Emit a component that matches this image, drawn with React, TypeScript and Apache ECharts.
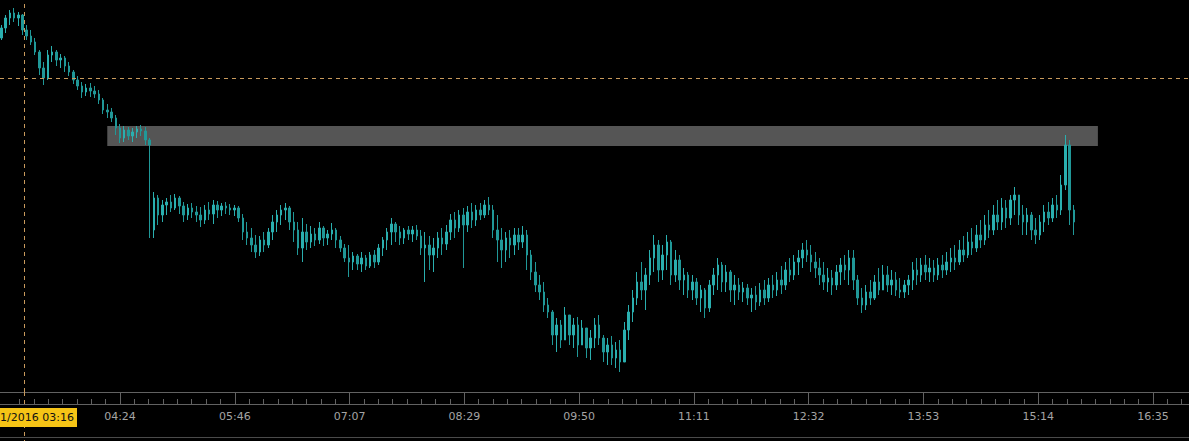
import { useEffect, useRef } from 'react';
import * as echarts from 'echarts';

// Candles: 3-minute bars starting 03:00, each [open, close, low, high]
const START_TIME = '03:00';
const PERIOD_MIN = 3;
const candles: number[][] = [
  [962, 972, 960, 975], [972, 982, 967, 985], [982, 987, 975, 990], [987, 982, 978, 992], [982, 985, 974, 988],
  [985, 970, 965, 986], [970, 964, 960, 975], [964, 958, 955, 970], [958, 948, 945, 962], [948, 932, 925, 950],
  [932, 922, 915, 938], [922, 945, 920, 950], [945, 948, 938, 954], [948, 940, 934, 950], [940, 942, 932, 946],
  [942, 934, 928, 944], [934, 928, 924, 938], [928, 920, 916, 930], [920, 914, 910, 924], [914, 908, 902, 918],
  [908, 912, 904, 916], [912, 909, 903, 917], [909, 906, 902, 914], [906, 900, 896, 910], [900, 890, 886, 902],
  [890, 888, 882, 896], [888, 882, 878, 892], [882, 872, 865, 885], [872, 862, 857, 876], [862, 870, 858, 874],
  [870, 864, 860, 873], [864, 868, 858, 872], [868, 871, 862, 874], [871, 869, 864, 875], [869, 860, 855, 873],
  [860, 855, 762, 862], [770, 802, 762, 808], [802, 785, 775, 805], [785, 795, 778, 800], [795, 798, 785, 802],
  [798, 792, 788, 805], [792, 802, 790, 806], [802, 794, 786, 804], [794, 785, 778, 798], [785, 792, 780, 796],
  [792, 788, 782, 797], [788, 785, 778, 794], [785, 780, 773, 793], [780, 790, 776, 795], [790, 786, 780, 798],
  [786, 795, 776, 800], [795, 790, 782, 799], [790, 794, 784, 797], [794, 792, 786, 798], [792, 790, 785, 796],
  [790, 792, 784, 795], [792, 782, 778, 794], [782, 768, 760, 786], [768, 762, 755, 778], [762, 755, 748, 772],
  [755, 748, 742, 765], [748, 760, 744, 764], [760, 755, 748, 768], [755, 768, 752, 772], [768, 778, 760, 785],
  [778, 785, 768, 790], [785, 790, 775, 795], [790, 792, 780, 797], [792, 778, 770, 794], [778, 770, 758, 788],
  [770, 752, 745, 778], [752, 768, 738, 782], [768, 758, 750, 776], [758, 766, 752, 774], [766, 760, 754, 772],
  [760, 772, 756, 778], [772, 762, 754, 774], [762, 766, 755, 770], [766, 770, 760, 777], [770, 760, 752, 772],
  [760, 752, 748, 764], [752, 742, 738, 756], [742, 738, 723, 755], [738, 744, 730, 748], [744, 736, 730, 746],
  [736, 742, 728, 748], [742, 734, 730, 745], [734, 745, 732, 748], [745, 738, 732, 750], [738, 752, 735, 756],
  [752, 760, 744, 763], [760, 768, 750, 772], [768, 776, 755, 782], [776, 768, 758, 778], [768, 762, 755, 774],
  [762, 770, 756, 772], [770, 766, 760, 774], [766, 770, 758, 774], [770, 764, 760, 775], [764, 752, 745, 770],
  [752, 755, 718, 768], [755, 745, 730, 764], [745, 752, 728, 762], [752, 762, 742, 768], [762, 756, 745, 772],
  [756, 768, 750, 775], [768, 780, 760, 786], [780, 772, 762, 788], [772, 785, 768, 790], [785, 775, 732, 792],
  [775, 788, 768, 794], [788, 780, 772, 797], [780, 790, 774, 795], [790, 785, 780, 797], [785, 795, 782, 800],
  [795, 790, 785, 803], [790, 770, 762, 795], [770, 760, 738, 785], [760, 750, 732, 772], [750, 762, 738, 768],
  [762, 755, 742, 770], [755, 765, 745, 772], [765, 758, 750, 772], [758, 765, 752, 774], [765, 745, 730, 770],
  [745, 728, 720, 750], [728, 715, 708, 738], [715, 708, 700, 725], [708, 695, 688, 718], [695, 688, 682, 702],
  [688, 665, 655, 690], [665, 675, 648, 682], [675, 660, 652, 680], [660, 685, 660, 693], [685, 665, 655, 685],
  [665, 675, 652, 682], [675, 655, 643, 683], [655, 672, 655, 680], [672, 652, 642, 672], [652, 662, 640, 670],
  [662, 675, 652, 682], [675, 662, 655, 685], [662, 648, 638, 665], [648, 655, 635, 662], [655, 642, 635, 664],
  [642, 650, 632, 658], [650, 638, 628, 660], [638, 670, 638, 678], [670, 688, 660, 695], [688, 702, 678, 710],
  [702, 718, 695, 728], [718, 710, 700, 738], [710, 725, 690, 732], [725, 742, 715, 750], [742, 755, 728, 765],
  [755, 730, 718, 760], [730, 745, 720, 755], [745, 758, 730, 765], [758, 725, 715, 760], [725, 740, 718, 750],
  [740, 720, 710, 745], [720, 725, 705, 732], [725, 710, 702, 728], [710, 718, 700, 725], [718, 702, 695, 722],
  [702, 710, 688, 715], [710, 692, 682, 712], [692, 715, 688, 720], [715, 725, 705, 732], [725, 735, 710, 742],
  [735, 718, 708, 738], [718, 728, 708, 735], [728, 710, 698, 730], [710, 715, 695, 725], [715, 708, 700, 722],
  [708, 712, 698, 718], [712, 702, 695, 716], [702, 705, 688, 712], [705, 698, 690, 714], [698, 710, 694, 717],
  [710, 702, 695, 720], [702, 715, 698, 722], [715, 710, 702, 725], [710, 720, 704, 728], [720, 715, 706, 734],
  [715, 730, 710, 738], [730, 725, 718, 742], [725, 738, 720, 745], [738, 742, 725, 750], [742, 750, 732, 757],
  [750, 745, 738, 760], [745, 738, 728, 755], [738, 732, 722, 748], [732, 725, 715, 742], [725, 718, 710, 738],
  [718, 722, 708, 732], [722, 715, 705, 730], [715, 728, 710, 735], [728, 735, 715, 742], [735, 730, 720, 745],
  [730, 742, 715, 750], [742, 720, 710, 750], [720, 702, 695, 725], [702, 695, 687, 712], [695, 708, 690, 715],
  [708, 702, 695, 720], [702, 718, 700, 725], [718, 710, 705, 732], [710, 725, 710, 735], [725, 715, 708, 734],
  [715, 720, 705, 730], [720, 710, 704, 728], [710, 708, 702, 722], [708, 715, 702, 720], [715, 720, 705, 725],
  [720, 730, 710, 738], [730, 725, 715, 742], [725, 735, 718, 742], [735, 728, 720, 745], [728, 732, 718, 742],
  [732, 725, 718, 740], [725, 735, 720, 742], [735, 730, 722, 745], [730, 738, 725, 748], [738, 742, 728, 752],
  [742, 738, 730, 755], [738, 750, 735, 760], [750, 745, 738, 764], [745, 758, 742, 768], [758, 752, 745, 772],
  [752, 765, 748, 775], [765, 760, 752, 780], [760, 775, 755, 785], [775, 770, 762, 790], [770, 785, 765, 795],
  [785, 778, 770, 800], [778, 792, 770, 802], [792, 782, 772, 800], [782, 800, 775, 805], [800, 805, 785, 813],
  [805, 785, 775, 805], [785, 778, 765, 795], [778, 785, 765, 792], [785, 770, 760, 788], [770, 765, 756, 782],
  [765, 778, 760, 785], [778, 788, 768, 795], [788, 782, 775, 798], [782, 795, 778, 802], [795, 790, 782, 805],
  [790, 815, 785, 825], [815, 855, 810, 865], [855, 790, 775, 860], [790, 778, 765, 795],
];

const tickLabels = ['04:24', '05:46', '07:07', '08:29', '09:50', '11:11', '12:32', '13:53', '15:14', '16:35'];
const crosshairTime = '03:16';
const crosshairPrice = 922;
const pointerLabel = '1/2016 03:16';
const bandTimes = ['04:15', '15:56'];
const bandPrices = [874, 854];
const priceRange = [608, 1000];

const toMin = (s: string) => {
  const [h, m] = s.split(':').map(Number);
  return h * 60 + m;
};

const TEAL_UP = '#2aafaf';
const TEAL_DOWN = '#209898';
const AXIS = '#626262';
const CROSS = '#c99a5c';

export default function App() {
  const ref = useRef<HTMLDivElement>(null);

  useEffect(() => {
    document.body.style.margin = '0';
    document.body.style.background = '#000';
    const chart = echarts.init(ref.current!, null, { renderer: 'svg' });

    const first = toMin(tickLabels[0]);
    const last = toMin(tickLabels[tickLabels.length - 1]);
    const step = (last - first) / (tickLabels.length - 1);
    const majors = tickLabels.map((_, i) => first + i * step);
    // pixel geometry of the axis: first label at 120px, last at 1153px
    const pxPerMin = (1153 - 120) / (last - first);
    const xMin = first - 120 / pxPerMin;
    const xMax = xMin + 1189 / pxPerMin;
    const minors: number[] = [];
    for (let k = -16; k <= (tickLabels.length - 1) * 8 + 8; k++) {
      if (k % 8 === 0) continue;
      const v = first + (k * step) / 8;
      if (v > xMin && v < xMax) minors.push(v);
    }
    const start = toMin(START_TIME);
    const data = candles.map((c, i) => [start + i * PERIOD_MIN, c[0], c[1], c[2], c[3]]);

    const fmt = (v: number) => {
      let best = 0;
      majors.forEach((m, i) => {
        if (Math.abs(m - v) < Math.abs(majors[best] - v)) best = i;
      });
      return tickLabels[best];
    };

    const baseAxis = { type: 'value' as const, min: xMin, max: xMax, position: 'bottom' as const, splitLine: { show: false } };

    chart.setOption({
      animation: false,
      backgroundColor: '#000',
      grid: { left: 0, right: 0, top: 0, bottom: 49 },
      xAxis: [
        {
          ...baseAxis,
          axisLine: { show: true, lineStyle: { color: AXIS, width: 1 } },
          axisTick: { show: true, customValues: majors, length: 12, lineStyle: { color: AXIS } },
          axisLabel: {
            show: true, customValues: majors, formatter: fmt, color: '#a4a4a4',
            fontSize: 11, fontFamily: 'DejaVu Sans', margin: 19,
          },
        },
        {
          ...baseAxis,
          offset: 12,
          axisLine: { show: true, lineStyle: { color: AXIS, width: 1 } },
          axisTick: { show: true, customValues: minors, inside: true, length: 5, lineStyle: { color: AXIS } },
          axisLabel: { show: false },
        },
        {
          ...baseAxis,
          offset: 45,
          axisLine: { show: true, lineStyle: { color: '#4a4a4a', width: 1 } },
          axisTick: { show: false },
          axisLabel: { show: false },
        },
      ],
      yAxis: { type: 'value', min: priceRange[0], max: priceRange[1], show: false },
      series: [
        {
          type: 'line', data: [], z: 1, silent: true,
          markArea: {
            silent: true,
            itemStyle: { color: '#555555', opacity: 1 },
            data: [[{ xAxis: toMin(bandTimes[0]), yAxis: bandPrices[0] }, { xAxis: toMin(bandTimes[1]), yAxis: bandPrices[1] }]],
          },
        },
        {
          type: 'candlestick', z: 2, barWidth: 2, data,
          itemStyle: { color: TEAL_UP, color0: TEAL_DOWN, borderColor: TEAL_UP, borderColor0: TEAL_DOWN, borderWidth: 1 },
        },
        {
          type: 'line', data: [], z: 3, silent: true,
          markLine: {
            silent: true, symbol: 'none', label: { show: false },
            lineStyle: { color: CROSS, type: [4, 4], width: 1 },
            data: [{ yAxis: crosshairPrice }, { xAxis: toMin(crosshairTime) }],
          },
        },
      ],
    });

    const cx = Math.round(chart.convertToPixel({ xAxisIndex: 0 }, toMin(crosshairTime)) as number) + 0.5;
    const gy = chart.convertToPixel({ yAxisIndex: 0 }, priceRange[0]) as number;
    chart.setOption({
      graphic: [
        { type: 'line', z: 50, shape: { x1: cx, y1: gy, x2: cx, y2: 441 }, style: { stroke: CROSS, lineWidth: 1, lineDash: [4, 4] } },
        { type: 'rect', z: 51, shape: { x: 0, y: 408, width: 77, height: 19 }, style: { fill: '#f6c416' } },
        {
          type: 'text', z: 52, x: 0, y: 417.5,
          style: { text: pointerLabel, fill: '#111', font: '11px "DejaVu Sans"', verticalAlign: 'middle', align: 'left' },
        },
      ],
    });

    return () => chart.dispose();
  }, []);

  return <div ref={ref} style={{ width: 1189, height: 441, background: '#000' }} />;
}
